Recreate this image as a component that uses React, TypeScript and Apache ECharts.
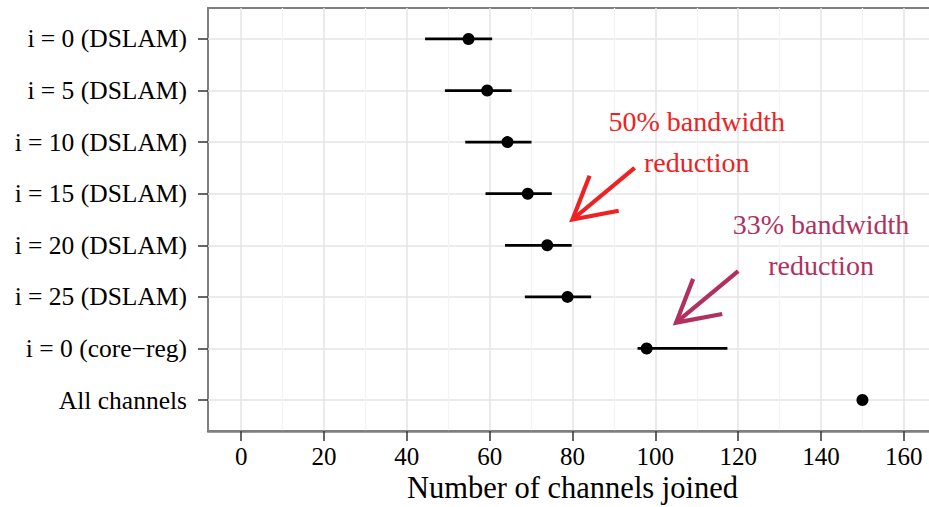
import React, { useEffect, useRef } from "react";
import * as echarts from "echarts";

const categories = [
  "i = 0 (DSLAM)",
  "i = 5 (DSLAM)",
  "i = 10 (DSLAM)",
  "i = 15 (DSLAM)",
  "i = 20 (DSLAM)",
  "i = 25 (DSLAM)",
  "i = 0 (core\u2212reg)",
  "All channels",
];
const meanValues = [54.9, 59.4, 64.3, 69.2, 73.9, 78.8, 97.9, 150];
const lowerValues: (number | null)[] = [44.4, 49.2, 54.1, 59.0, 63.7, 68.5, 95.7, null];
const upperValues: (number | null)[] = [60.6, 65.3, 70.1, 75.0, 79.8, 84.5, 117.4, null];

const xMajorTicks = [0, 20, 40, 60, 80, 100, 120, 140, 160];
const xMinorTicks = [10, 30, 50, 70, 90, 110, 130, 150];
const yTicks = [1, 2, 3, 4, 5, 6, 7, 8];

const arrowFrom = [
  [95, 3.5],
  [120, 5.5],
];
const arrowTo = [
  [80, 4.5],
  [105, 6.5],
];
const noteX = [110, 140];
const noteY = [3, 5];
const noteText = ["50% bandwidth\nreduction", "33% bandwidth\nreduction"];
const noteColors = ["#EE2222", "#B03060"];

const FONT = '"Liberation Serif", "Times New Roman", serif';

export default function App() {
  const ref = useRef<HTMLDivElement>(null);
  useEffect(() => {
    if (!ref.current) return;
    const chart = echarts.init(ref.current, null, { renderer: "svg" });

    const errData = lowerValues
      .map((lo, i) => (lo == null ? null : [lo, upperValues[i], i + 1]))
      .filter((d) => d != null);
    const pointData = meanValues.map((v, i) => [v, i + 1]);
    const arrowData = arrowFrom.map((f, i) => [f[0], f[1], arrowTo[i][0], arrowTo[i][1], i]);
    const noteData = noteX.map((x, i) => [x, noteY[i], i]);

    const option: any = {
      animation: false,
      backgroundColor: "#ffffff",
      grid: {
        left: 208,
        top: 8,
        width: 729,
        height: 423,
        show: true,
        borderColor: "#7f7f7f",
        borderWidth: 2,
        backgroundColor: "transparent",
        outerBoundsMode: "none",
        containLabel: false,
      },
      xAxis: [
        {
          type: "value",
          min: -8,
          max: 168,
          position: "bottom",
          name: "Number of channels joined",
          nameLocation: "middle",
          nameGap: 57,
          nameMoveOverlap: false,
          nameTextStyle: {
            fontFamily: FONT,
            fontSize: 30.5,
            lineHeight: 28,
            color: "#000",
            verticalAlign: "middle",
          },
          axisLine: { show: true, onZero: false, lineStyle: { color: "#7f7f7f", width: 2.5 } },
          axisTick: {
            show: true,
            length: 10,
            customValues: xMajorTicks,
            lineStyle: { color: "#333333", width: 1.5 },
          },
          axisLabel: {
            customValues: xMajorTicks,
            fontFamily: FONT,
            fontSize: 25,
            lineHeight: 23,
            color: "#000",
            margin: 14,
          },
          splitLine: { show: true, lineStyle: { color: "#e5e5e5", width: 1.5 } },
        },
        {
          type: "value",
          min: -8,
          max: 168,
          position: "bottom",
          axisLine: { show: false, onZero: false },
          axisTick: { show: false, customValues: xMinorTicks },
          axisLabel: { show: false, customValues: xMinorTicks },
          splitLine: { show: true, lineStyle: { color: "#f3f3f3", width: 1.2 } },
        },
      ],
      yAxis: {
        type: "value",
        min: 0.4,
        max: 8.6,
        inverse: true,
        axisLine: { show: false, onZero: false },
        axisTick: {
          show: true,
          length: 10,
          customValues: yTicks,
          lineStyle: { color: "#333333", width: 1.5 },
        },
        axisLabel: {
          customValues: yTicks,
          formatter: (v: number) => categories[Math.round(v) - 1] ?? "",
          fontFamily: FONT,
          fontSize: 25.5,
          color: "#000",
          margin: 21,
        },
        splitLine: { show: true, lineStyle: { color: "#e5e5e5", width: 1.5 } },
      },
      series: [
        {
          type: "custom",
          name: "range",
          xAxisIndex: 0,
          data: errData,
          encode: { x: [0, 1], y: 2 },
          renderItem: (params: any, api: any) => {
            const a = api.coord([api.value(0), api.value(2)]);
            const b = api.coord([api.value(1), api.value(2)]);
            return {
              type: "line",
              shape: { x1: a[0], y1: a[1], x2: b[0], y2: b[1] },
              style: { stroke: "#000", lineWidth: 2.8 },
            };
          },
          z: 2,
        },
        {
          type: "scatter",
          name: "mean",
          xAxisIndex: 0,
          data: pointData,
          symbol: "circle",
          symbolSize: 12,
          itemStyle: { color: "#000", opacity: 1 },
          z: 3,
        },
        {
          type: "custom",
          name: "arrows",
          xAxisIndex: 0,
          data: arrowData,
          encode: { x: [0, 2], y: [1, 3] },
          renderItem: (params: any, api: any) => {
            const p0 = api.coord([api.value(0), api.value(1)]);
            const p1 = api.coord([api.value(2), api.value(3)]);
            const color = noteColors[api.value(4)];
            const ang = Math.atan2(p0[1] - p1[1], p0[0] - p1[0]);
            const len = 47;
            const da = (29 * Math.PI) / 180;
            const h1 = [p1[0] + len * Math.cos(ang + da), p1[1] + len * Math.sin(ang + da)];
            const h2 = [p1[0] + len * Math.cos(ang - da), p1[1] + len * Math.sin(ang - da)];
            return {
              type: "group",
              children: [
                {
                  type: "line",
                  shape: { x1: p0[0], y1: p0[1], x2: p1[0], y2: p1[1] },
                  style: { stroke: color, lineWidth: 4.2, lineCap: "butt" },
                },
                {
                  type: "polyline",
                  shape: { points: [h1, p1, h2] },
                  style: { stroke: color, lineWidth: 4.2, fill: null, lineJoin: "miter", lineCap: "butt" },
                },
              ],
            };
          },
          z: 4,
        },
        {
          type: "custom",
          name: "notes",
          xAxisIndex: 0,
          data: noteData,
          encode: { x: 0, y: 1 },
          renderItem: (params: any, api: any) => {
            const p = api.coord([api.value(0), api.value(1)]);
            const i = api.value(2);
            return {
              type: "text",
              x: p[0],
              y: p[1],
              style: {
                text: noteText[i],
                fill: noteColors[i],
                fontFamily: FONT,
                fontSize: 28,
                lineHeight: 41,
                align: "center",
                verticalAlign: "middle",
              },
            };
          },
          z: 5,
        },
      ],
    };
    chart.setOption(option);
    return () => chart.dispose();
  }, []);
  return (
    <div
      ref={ref}
      style={{ position: "absolute", left: 0, top: 0, width: 929, height: 507 }}
    />
  );
}
